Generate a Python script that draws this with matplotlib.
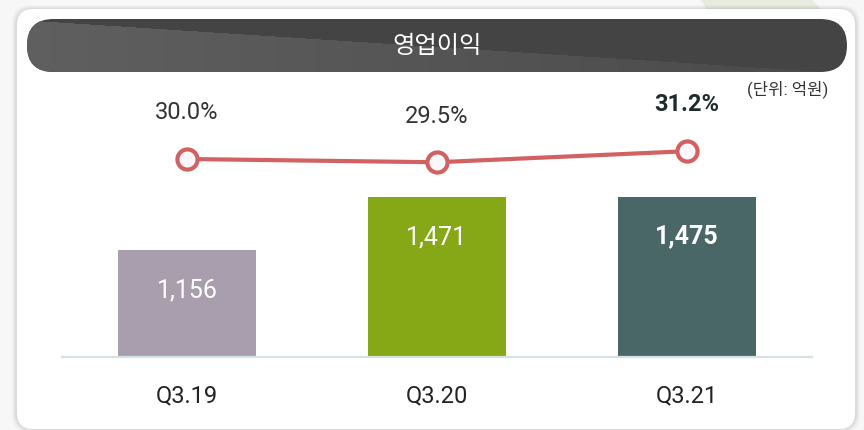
import numpy as np
import matplotlib.pyplot as plt
from matplotlib.patches import FancyBboxPatch, Polygon

plt.rcParams['font.family'] = ['Roboto', 'Noto Sans CJK KR', 'DejaVu Sans']

# data
categories = ['Q3.19', 'Q3.20', 'Q3.21']
profit = [1156, 1471, 1475]          # 영업이익 (억원)
margin = [30.0, 29.5, 31.2]          # 영업이익률 (%)
bar_colors = ['#a89eae', '#86a816', '#4a6767']
title = '영업이익'
unit_label = '(단위: 억원)'

W, H = 864, 431
fig = plt.figure(figsize=(W / 100, H / 100), dpi=100)
fig.patch.set_facecolor('#f7f7f7')

# background layer in pixel coordinates
bg = fig.add_axes([0, 0, 1, 1])
bg.set_xlim(0, W)
bg.set_ylim(H, 0)
bg.axis('off')

bg.add_patch(Polygon([[700, 0], [812, 0], [822, 12], [708, 12]],
                     fc='#e8ecdf', ec='none', zorder=0))
# soft shadow round the card
for i, a in enumerate([0.035, 0.03, 0.025, 0.02]):
    bg.add_patch(FancyBboxPatch((17 - 2 - i, 10 - 1 - i), 838 + 4 + 2 * i, 420 + 2 + 2 * i,
                                boxstyle='round,pad=0,rounding_size=18',
                                fc='black', alpha=a, ec='none', zorder=1))
bg.add_patch(FancyBboxPatch((17, 10), 838, 420, boxstyle='round,pad=0,rounding_size=16',
                            fc='white', ec='none', zorder=2))

# title pill with lighter diagonal part
pill = FancyBboxPatch((27, 20), 820, 53, boxstyle='round,pad=0,rounding_size=26.5',
                      fc='#444444', ec='none', zorder=3)
bg.add_patch(pill)
xs = np.linspace(27, 847, 820)
ys = np.linspace(20, 73, 53)
gx, gy = np.meshgrid(xs, ys)
line_y = 21 + (gx - 27) * 54 / 820
shade = 0.375 - 0.085 * (gx - 27) / 820
img = np.zeros((53, 820, 4))
img[..., 0] = shade
img[..., 1] = shade
img[..., 2] = shade
img[..., 3] = (gy > line_y).astype(float)
im = bg.imshow(img, extent=[27, 847, 73, 20], zorder=4, interpolation='bilinear')
im.set_clip_path(pill)
bg.set_xlim(0, W)
bg.set_ylim(H, 0)
bg.text(437, 46.5, title, color='white', fontsize=17.5, ha='center', va='center', zorder=5)
bg.text(788, 89, unit_label, color='#333333', fontsize=12, ha='center', va='center', zorder=5)

# chart
ax = fig.add_axes([62 / W, (H - 358) / H, 750 / W, 268 / H])
ax.patch.set_alpha(0)
x = np.arange(len(categories))
bars = ax.bar(x, profit, width=0.552, color=bar_colors, zorder=2)
ax.set_xlim(-0.5, 2.5)
ax.set_ylim(520, 2115)
for s in ['top', 'left', 'right']:
    ax.spines[s].set_visible(False)
ax.spines['bottom'].set_color('#d6e2e2')
ax.spines['bottom'].set_linewidth(1.6)
ax.set_yticks([])
ax.set_xticks(x, categories)
ax.tick_params(axis='x', length=0, pad=19, labelsize=17, labelcolor='#222222')

for i, v in enumerate(profit):
    last = i == len(profit) - 1
    ax.annotate(f'{v:,}', (x[i], v), xytext=(0, -28), textcoords='offset points',
                ha='center', va='center', color='white', fontsize=18,
                fontweight='bold' if last else 'normal')

ax2 = ax.twinx()
ax2.patch.set_alpha(0)
ax2.set_ylim(-0.46, 40.77)
ax2.axis('off')
ax2.plot(x, margin, color='#d26262', lw=3, marker='o', ms=14.5,
         mfc='#faf8fc', mec='#d26262', mew=3, zorder=3)
for i, m in enumerate(margin):
    last = i == len(margin) - 1
    ax2.annotate(f'{m:.1f}%', (x[i], m), xytext=(0, 34), textcoords='offset points',
                 ha='center', va='center', fontsize=17,
                 color='#1e2b2b' if last else '#333333',
                 fontweight='bold' if last else 'normal')

fig.savefig('out.png', dpi=100, facecolor=fig.get_facecolor())
